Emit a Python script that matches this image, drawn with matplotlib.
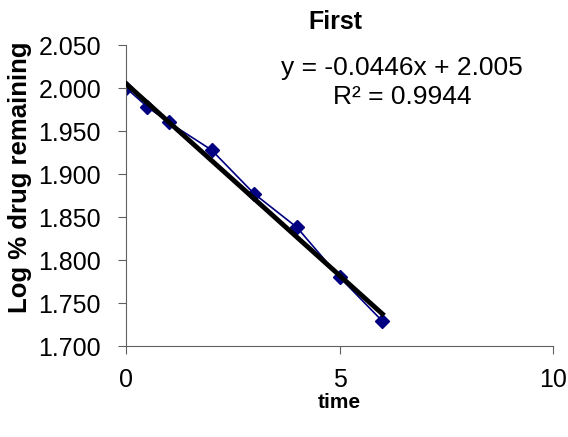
import numpy as np
import matplotlib.pyplot as plt

plt.rcParams['font.family'] = ['Liberation Sans', 'DejaVu Sans']

time = [0, 0.5, 1, 2, 3, 4, 5, 6]
log_remaining = [2.000, 1.978, 1.960, 1.928, 1.877, 1.838, 1.780, 1.729]
slope = -0.0446
intercept = 2.005

fig = plt.figure(figsize=(5.68, 4.37), dpi=100)
ax = fig.add_axes([0.222, 0.208, 0.752, 0.689])

fit_x = np.array([0, 6])
ax.plot(fit_x, slope*fit_x + intercept, c='black', lw=3.5, zorder=3)
ax.plot(time, log_remaining, c='#000080', lw=1.2, marker='D', ms=7,
        mec='#000080', mfc='#000080', zorder=2)

ax.set_xlim(0, 10)
ax.set_ylim(1.700, 2.050)
ax.set_xticks([0, 5, 10])
yt = np.arange(1.700, 2.051, 0.050)
ax.set_yticks(yt)
ax.set_yticklabels(["{:.3f}".format(v) for v in yt])
for side in ['top', 'right']:
    ax.spines[side].set_visible(False)
for side in ['left', 'bottom']:
    ax.spines[side].set_color('#606060')
ax.tick_params(direction='out', length=6, color='#606060', labelsize=18)
ax.tick_params(axis='x', pad=10)
ax.tick_params(axis='y', pad=12)

fig.text(20/568, 1 - 177/437, "Log % drug remaining", rotation=90, ha='center', va='center',
         fontsize=18.5, fontweight='bold')
fig.text(339/568, 1 - 403/437, "time", ha='center', va='center', fontsize=15, fontweight='bold')
fig.text(335/568, 1 - 22/437, "First", ha='center', va='center', fontsize=18, fontweight='bold')
fig.text(402/568, 1 - 68/437, "y = -0.0446x + 2.005", ha='center', va='center', fontsize=19)
fig.text(402/568, 1 - 97/437, "R² = 0.9944", ha='center', va='center', fontsize=19)

fig.savefig("out.png", dpi=100)
